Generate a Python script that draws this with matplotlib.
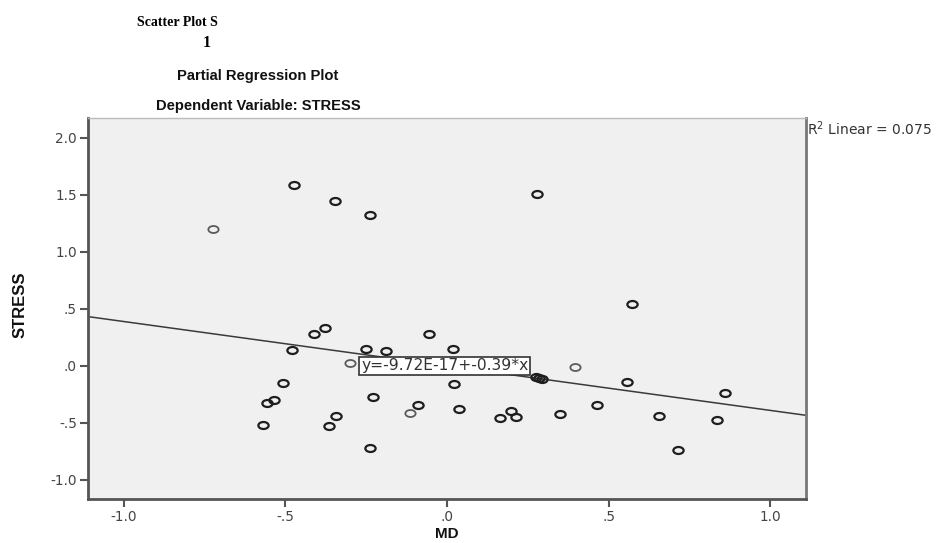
import matplotlib
matplotlib.use("Agg")
import matplotlib.pyplot as plt
import numpy as np
from matplotlib.path import Path
from matplotlib.transforms import Affine2D

# ---- data ----
md_dark = [-0.472, -0.347, -0.237, -0.411, -0.377, -0.055, 0.279, 0.571,
           -0.478, -0.251, -0.189, 0.018, -0.507, 0.022, -0.535, -0.556,
           -0.228, -0.091, 0.036, -0.342, -0.366, -0.568, -0.238,
           0.275, 0.285, 0.295, 0.558, 0.861, 0.197, 0.163, 0.213,
           0.349, 0.464, 0.656, 0.836, 0.713]
stress_dark = [1.585, 1.447, 1.327, 0.278, 0.330, 0.278, 1.511, 0.546,
               0.140, 0.149, 0.132, 0.146, -0.149, -0.158, -0.301, -0.325,
               -0.272, -0.345, -0.380, -0.442, -0.529, -0.515, -0.722,
               -0.098, -0.108, -0.114, -0.143, -0.234, -0.398, -0.459, -0.450,
               -0.421, -0.345, -0.442, -0.471, -0.734]
md_light = [-0.724, -0.301, -0.115, 0.396]
stress_light = [1.200, 0.026, -0.412, -0.012]

intercept = -9.72e-17
slope = -0.39
r2_linear = 0.075
equation = "y=-9.72E-17+-0.39*x"

xticks = [-1.0, -0.5, 0.0, 0.5, 1.0]
xticklabels = ["-1.0", "-.5", ".0", ".5", "1.0"]
yticks = [-1.0, -0.5, 0.0, 0.5, 1.0, 1.5, 2.0]
yticklabels = ["-1.0", "-.5", ".0", ".5", "1.0", "1.5", "2.0"]

W, H = 939, 543
fig = plt.figure(figsize=(W / 100, H / 100), dpi=100)
ax = fig.add_axes([88 / W, 1 - 499 / H, (806 - 88) / W, (499 - 118) / H])
ax.set_facecolor("#f0f0f0")
ax.set_xlim(-1.11, 1.11)
ax.set_ylim(-1.167, 2.175)

# regression line
xl = np.array(ax.get_xlim())
ax.plot(xl, intercept + slope * xl, color="#3a3a3a", lw=1.1, zorder=2)

ellipse = Path.unit_circle().transformed(Affine2D().scale(1.0, 0.68))
ax.plot(md_dark, stress_dark, ls="none", marker=ellipse, ms=7.4,
        mfc="none", mec="#1e1e1e", mew=1.6, zorder=3)
ax.plot(md_light, stress_light, ls="none", marker=ellipse, ms=7.4,
        mfc="none", mec="#5a5a5a", mew=1.3, zorder=3)

# equation label
ax.text(-0.265, 0.0, equation,
        ha="left", va="center", fontsize=11.2, color="#333333",
        family="DejaVu Sans",
        bbox=dict(boxstyle="square,pad=0.12", fc="white", ec="#333333", lw=1.2),
        zorder=4)

ax.set_xticks(xticks)
ax.set_xticklabels(xticklabels)
ax.set_yticks(yticks)
ax.set_yticklabels(yticklabels)
ax.tick_params(direction="out", length=6, width=1.5, color="#555555",
               labelsize=9.8, labelcolor="#444444", pad=2)
for lab in ax.get_xticklabels() + ax.get_yticklabels():
    lab.set_family("DejaVu Sans")

for s in ["left", "bottom"]:
    ax.spines[s].set_color("#555555")
    ax.spines[s].set_linewidth(2)
ax.spines["right"].set_color("#777777")
ax.spines["right"].set_linewidth(2)
ax.spines["top"].set_color("#bbbbbb")
ax.spines["top"].set_linewidth(1)

ax.set_xlabel("MD", fontsize=11, fontweight="bold", family="Liberation Sans", color="#111111")
ax.set_ylabel("STRESS", fontsize=12, fontweight="bold", family="Liberation Sans", color="#111111")
ax.xaxis.set_label_coords((447 - 88) / 718, (499 - 527) / 381)
ax.yaxis.set_label_coords((28 - 88) / 718, (499 - 305) / 381)

# titles
fig.text(258 / W, 1 - 76 / H, "Partial Regression Plot", ha="center", va="center",
         fontsize=10.6, fontweight="bold", family="Liberation Sans",
         color="#111111")
fig.text(258 / W, 1 - 106 / H, "Dependent Variable: STRESS", ha="center", va="center",
         fontsize=10.6, fontweight="bold", family="Liberation Sans",
         color="#111111")
fig.text(137 / W, 1 - 23 / H, "Scatter Plot S", ha="left", va="center",
         fontsize=10, fontweight="bold", family="Liberation Serif", color="black")
fig.text(207 / W, 1 - 43 / H, "1", ha="center", va="center",
         fontsize=11.5, fontweight="bold", family="Liberation Serif", color="black")
fig.text(807 / W, 1 - 129 / H, "R$^2$ Linear = %.3f" % r2_linear, ha="left", va="center",
         fontsize=10, family="DejaVu Sans", color="#333333")

fig.savefig("out.png", dpi=100)
